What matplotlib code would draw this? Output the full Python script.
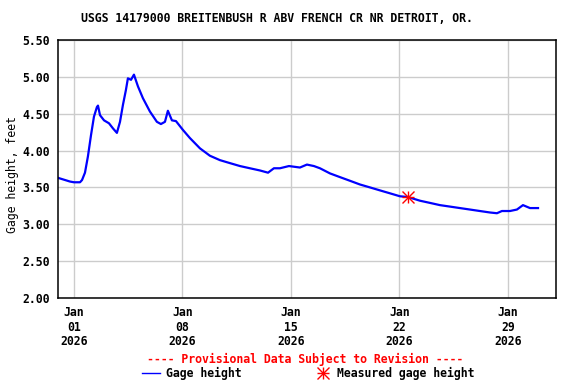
import numpy as np
import pandas as pd
import matplotlib
matplotlib.use('Agg')
import matplotlib.pyplot as plt
import matplotlib.dates as mdates
from matplotlib.lines import Line2D

# gage height readings, days offset from 2026-01-01 00:00
day_offsets = [-1.03, -0.26, 0.0, 0.39, 0.52, 0.71, 0.90, 1.10, 1.29, 1.48, 1.55,
               1.68, 1.94, 2.26, 2.52, 2.77, 2.97, 3.16, 3.35, 3.48, 3.68, 3.87,
               4.13, 4.45, 4.90, 5.35, 5.61, 5.87, 6.06, 6.32, 6.58, 7.03, 7.48,
               8.13, 8.77, 9.42, 10.06, 10.71, 11.35, 12.0, 12.52, 12.90, 13.29,
               13.87, 14.58, 15.03, 15.48, 15.87, 16.52, 17.16, 17.81, 18.45,
               19.10, 19.74, 20.39, 21.03, 21.55, 22.32, 22.97, 23.61, 24.26,
               24.90, 25.55, 26.19, 26.84, 27.29, 27.61, 28.13, 28.58, 28.97,
               29.42, 29.94]
gage_height = [3.63, 3.58, 3.57, 3.57, 3.60, 3.70, 3.92, 4.21, 4.46, 4.59, 4.61,
               4.48, 4.41, 4.37, 4.30, 4.24, 4.39, 4.62, 4.82, 4.98, 4.96, 5.03,
               4.87, 4.71, 4.53, 4.39, 4.36, 4.39, 4.54, 4.41, 4.40, 4.28, 4.17,
               4.03, 3.93, 3.87, 3.83, 3.79, 3.76, 3.73, 3.70, 3.76, 3.76,
               3.79, 3.77, 3.81, 3.79, 3.76, 3.69, 3.64, 3.59, 3.54,
               3.50, 3.46, 3.42, 3.38, 3.37, 3.32, 3.29, 3.26, 3.24,
               3.22, 3.20, 3.18, 3.16, 3.15, 3.18, 3.18, 3.20, 3.26,
               3.22, 3.22]

# field measurement
meas_offset = [21.55]
meas_height = [3.37]

base = pd.Timestamp('2026-01-01')
times = base + pd.to_timedelta(day_offsets, unit='D')
meas_times = base + pd.to_timedelta(meas_offset, unit='D')
tick_days = ['2026-01-01', '2026-01-08', '2026-01-15', '2026-01-22', '2026-01-29']
y_ticks = [2.0, 2.5, 3.0, 3.5, 4.0, 4.5, 5.0, 5.5]

plt.rcParams['font.family'] = 'DejaVu Sans Mono'
plt.rcParams['font.weight'] = 'bold'
fs = 8.3

fig = plt.figure(figsize=(5.76, 3.84), dpi=100)
ax = fig.add_axes([58/576, 1-298/384, 498/576, 258/384])

ax.plot(times, gage_height, color='#0000ff', lw=1.6)
# 8-arm asterisk = plus + cross
for m in ['+', 'x']:
    ax.plot(meas_times, meas_height, ls='none', marker=m, ms=8, mew=1.0, color='red')

ax.set_xlim(base + pd.Timedelta(days=-1.03), base + pd.Timedelta(days=31.1))
ax.set_ylim(2.0, 5.5)
ax.set_xticks(pd.to_datetime(tick_days))
ax.xaxis.set_major_formatter(mdates.DateFormatter('%b\n%d\n%Y'))
ax.set_yticks(y_ticks)
ax.set_yticklabels(['%.2f' % v for v in y_ticks])
ax.tick_params(length=0, labelsize=fs, pad=6)
for lab in ax.get_xticklabels():
    lab.set_linespacing(1.15)
ax.grid(True, color='#cccccc', lw=1)
for s in ax.spines.values():
    s.set_linewidth(1.1)
ax.set_ylabel('Gage height, feet', fontsize=fs)
ax.yaxis.set_label_coords(-0.078, 0.48)

fig.text(276.7/576, 1-19/384, 'USGS 14179000 BREITENBUSH R ABV FRENCH CR NR DETROIT, OR.',
         ha='center', va='center', fontsize=fs)
fig.text(305.5/576, 1-359/384, '---- Provisional Data Subject to Revision ----',
         ha='center', va='center', fontsize=fs, color='red')
fig.add_artist(Line2D([142/576, 160/576], [1-372.7/384]*2, color='#0000ff', lw=1))
fig.text(165.7/576, 1-373/384, 'Gage height', ha='left', va='center', fontsize=fs)
for m in ['+', 'x']:
    fig.add_artist(Line2D([322.7/576], [1-372.7/384], marker=m, ms=8, mew=1.0, color='red'))
fig.text(336.7/576, 1-373/384, 'Measured gage height', ha='left', va='center', fontsize=fs)

fig.savefig('out.png', dpi=100)
